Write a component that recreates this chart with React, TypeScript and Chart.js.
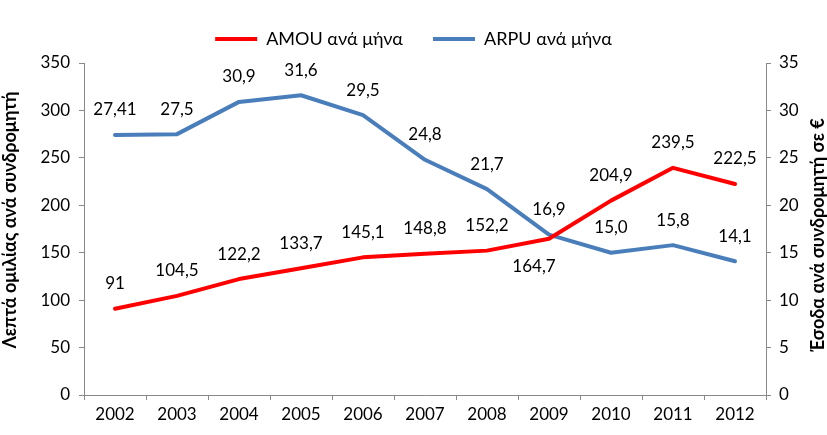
import React, { useEffect, useRef } from 'react';
import { Chart, registerables } from 'chart.js';

Chart.register(...registerables);

const years = ['2002', '2003', '2004', '2005', '2006', '2007', '2008', '2009', '2010', '2011', '2012'];
const amouValues = [91, 104.5, 122.2, 133.7, 145.1, 148.8, 152.2, 164.7, 204.9, 239.5, 222.5];
const arpuValues = [27.41, 27.5, 30.9, 31.6, 29.5, 24.8, 21.7, 16.9, 15.0, 15.8, 14.1];
const amouLabels = ['91', '104,5', '122,2', '133,7', '145,1', '148,8', '152,2', '164,7', '204,9', '239,5', '222,5'];
const arpuLabels = ['27,41', '27,5', '30,9', '31,6', '29,5', '24,8', '21,7', '16,9', '15,0', '15,8', '14,1'];
const amouName = 'AMOU ανά μήνα';
const arpuName = 'ARPU ανά μήνα';
const leftTitle = 'Λεπτά ομιλίας ανά συνδρομητή';
const rightTitle = 'Έσοδα ανά συνδρομητή σε €';

const FONT = "Lato, 'Noto Sans', sans-serif";
const AXIS_COLOR = '#898989';

const legendSpacing = {
  id: 'legendSpacing',
  beforeInit(chart: any) {
    const legend = chart.legend;
    if (!legend) return;
    const orig = legend.fit;
    legend.fit = function () {
      orig.call(this);
      this.height = 63;
    };
  },
};

const dataLabels = {
  id: 'dataLabels',
  afterDatasetsDraw(chart: any) {
    const ctx = chart.ctx;
    ctx.save();
    ctx.font = `17px ${FONT}`;
    ctx.fillStyle = '#000';
    ctx.textAlign = 'center';
    ctx.textBaseline = 'middle';
    chart.data.datasets.forEach((ds: any, di: number) => {
      const meta = chart.getDatasetMeta(di);
      const labels = ds.pointLabels as string[];
      meta.data.forEach((pt: any, i: number) => {
        let dx = 0;
        let dy = -25;
        if (di === 0 && i === 7) {
          dx = -15;
          dy = 28;
        }
        ctx.fillText(labels[i], pt.x + dx, pt.y + dy);
      });
    });
    ctx.restore();
  },
};

const axisTitles = {
  id: 'axisTitles',
  afterDraw(chart: any) {
    const ctx = chart.ctx;
    const area = chart.chartArea;
    const mid = (area.top + area.bottom) / 2;
    ctx.save();
    ctx.font = `bold 18px ${FONT}`;
    ctx.fillStyle = '#000';
    ctx.textAlign = 'center';
    ctx.textBaseline = 'middle';
    ctx.translate(10, mid - 9);
    ctx.rotate(-Math.PI / 2);
    ctx.fillText(leftTitle, 0, 0);
    ctx.restore();
    ctx.save();
    ctx.font = `bold 18px ${FONT}`;
    ctx.fillStyle = '#000';
    ctx.textAlign = 'center';
    ctx.textBaseline = 'middle';
    ctx.translate(chart.width - 9, mid + 6);
    ctx.rotate(-Math.PI / 2);
    ctx.fillText(rightTitle, 0, 0);
    ctx.restore();
  },
};

export default function App() {
  const canvasRef = useRef<HTMLCanvasElement | null>(null);

  useEffect(() => {
    document.body.style.margin = '0';
    const canvas = canvasRef.current;
    if (!canvas) return;
    const chart = new Chart(canvas, {
      type: 'line',
      data: {
        labels: years,
        datasets: [
          {
            label: amouName,
            data: amouValues,
            yAxisID: 'y',
            borderColor: '#FF0000',
            backgroundColor: '#FF0000',
            borderWidth: 4,
            pointRadius: 0,
            tension: 0,
            borderCapStyle: 'round',
            borderJoinStyle: 'round',
            pointLabels: amouLabels,
          } as any,
          {
            label: arpuName,
            data: arpuValues,
            yAxisID: 'y1',
            borderColor: '#4A7EBB',
            backgroundColor: '#4A7EBB',
            borderWidth: 4,
            pointRadius: 0,
            tension: 0,
            borderCapStyle: 'round',
            borderJoinStyle: 'round',
            pointLabels: arpuLabels,
          } as any,
        ],
      },
      options: {
        animation: false,
        responsive: true,
        maintainAspectRatio: false,
        layout: { padding: 0 },
        plugins: {
          tooltip: { enabled: false },
          legend: {
            position: 'top',
            labels: {
              boxWidth: 42,
              boxHeight: 4,
              padding: 30,
              color: '#000',
              font: { family: FONT, size: 18 },
              generateLabels: (c: any) =>
                (Chart.defaults.plugins.legend.labels.generateLabels as any)(c).map((l: any) => ({
                  ...l,
                  lineWidth: 0,
                })),
            },
          },
        },
        scales: {
          x: {
            offset: true,
            grid: {
              display: true,
              drawOnChartArea: false,
              drawTicks: true,
              tickLength: 5,
              color: AXIS_COLOR,
              offset: true,
            },
            border: { display: true, color: AXIS_COLOR, width: 1 },
            ticks: { color: '#000', font: { family: FONT, size: 17 }, padding: 4, maxRotation: 0 },
            afterFit: (s: any) => {
              s.height = 40;
            },
          },
          y: {
            position: 'left',
            min: 0,
            max: 350,
            ticks: { stepSize: 50, color: '#000', font: { family: FONT, size: 17 }, padding: 9 },
            grid: {
              display: true,
              drawOnChartArea: false,
              drawTicks: true,
              tickLength: 5,
              color: AXIS_COLOR,
            },
            border: { display: true, color: AXIS_COLOR, width: 1 },
            afterFit: (s: any) => {
              s.width = 84;
            },
          },
          y1: {
            position: 'right',
            min: 0,
            max: 35,
            ticks: { stepSize: 5, color: '#000', font: { family: FONT, size: 17 }, padding: 8 },
            grid: {
              display: true,
              drawOnChartArea: false,
              drawTicks: true,
              tickLength: 5,
              color: AXIS_COLOR,
            },
            border: { display: true, color: AXIS_COLOR, width: 1 },
            afterFit: (s: any) => {
              s.width = 61;
            },
          },
        },
      } as any,
      plugins: [legendSpacing, dataLabels, axisTitles],
    });
    return () => chart.destroy();
  }, []);

  return (
    <div style={{ position: 'relative', width: 827, height: 435 }}>
      <canvas ref={canvasRef} />
    </div>
  );
}
